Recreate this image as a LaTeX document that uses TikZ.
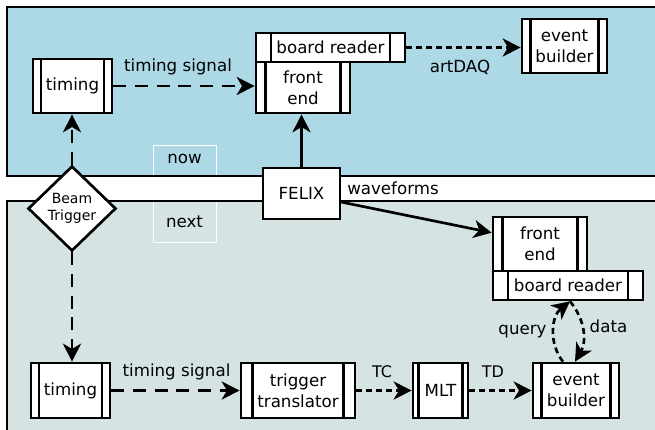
\documentclass[tikz,border=0pt]{standalone}
\usepackage{fontspec}
\setmainfont{DejaVu Sans}
\usetikzlibrary{arrows.meta,shapes.geometric,calc}
\definecolor{toppanel}{RGB}{173,216,230}
\definecolor{botpanel}{RGB}{214,227,227}
\begin{document}
\begin{tikzpicture}[x=0.75pt,y=-0.75pt,
  every node/.style={font=\fontsize{12.5}{16}\selectfont},
  proc/.style={draw, fill=white, line width=2pt, inner sep=0pt, align=center,
    path picture={
      \draw[line width=2pt]
        ($(path picture bounding box.north west)!0.1!(path picture bounding box.north east)$) --
        ($(path picture bounding box.south west)!0.1!(path picture bounding box.south east)$)
        ($(path picture bounding box.north east)!0.1!(path picture bounding box.north west)$) --
        ($(path picture bounding box.south east)!0.1!(path picture bounding box.south west)$);
    }},
  plainbox/.style={draw, fill=white, line width=2pt, inner sep=0pt, align=center},
  sz/.style 2 args={minimum width=#1*0.75pt, minimum height=#2*0.75pt},
  conn/.style={line width=2pt, -{Stealth[length=13.5pt,width=13.5pt,inset=4pt]}},
  longdash/.style={dash pattern=on 9.75pt off 6.5pt},
  shortdash/.style={dash pattern=on 4.5pt off 3pt},
  lbl/.style={inner sep=0pt},
  smalllbl/.style={inner sep=0pt, font=\fontsize{12}{14}\selectfont}
]
\useasboundingbox (0,0) rectangle (655,429);
\clip (0,0) rectangle (655,429);
% panels
\fill[toppanel] (7,7) rectangle (665,176);
\fill[botpanel] (7,201) rectangle (665,440);
\draw[white, line width=0.75pt] (153,145) rectangle (216,242);
\draw[line width=2pt] (7,7) rectangle (665,176);
\draw[line width=2pt] (7,201) rectangle (665,440);
\node[lbl] (now) at (184.5,159) {now};
\node[lbl] (next) at (184.5,221.5) {next};

% top nodes
\node[proc, sz={79}{54}] (tim1) at (72.5,86) {timing};
\node[proc, sz={94}{51}] (fe1) at (303,87.5) {front\\end};
\node[proc, sz={149}{29}] (br1) at (330.5,47.5) {board reader};
\node[proc, sz={85}{54}] (eb1) at (564.5,46) {event\\builder};
\node[plainbox, sz={77}{51}] (felix) at (301.5,193.5) {FELIX};
\node[diamond, draw, fill=white, line width=2pt, aspect=1, inner sep=0pt, sz={88}{85},
      align=center, font=\fontsize{10.5}{12.5}\selectfont] (beam) at (72,208.5) {Beam\\Trigger};

% bottom nodes
\node[proc, sz={94}{54}] (fe2) at (540,244) {front\\end};
\node[proc, sz={150}{29}] (br2) at (568,285.5) {board reader};
\node[proc, sz={86}{55}] (eb2) at (576,390.5) {event\\builder};
\node[proc, sz={55}{55}] (mlt) at (440.5,390.5) {MLT};
\node[proc, sz={114}{55}] (tt) at (298,390.5) {trigger\\translator};
\node[proc, sz={79}{55}] (tim2) at (70.5,390.5) {timing};

% connectors
\draw[conn, longdash] (tim1.east) -- (tim1.east -| fe1.west);
\draw[conn, longdash] (beam.north) -- (beam.north |- tim1.south);
\draw[conn, longdash] (beam.south) -- (beam.south |- tim2.north);
\draw[conn] (felix.north) -- (felix.north |- fe1.south);
\draw[conn, shortdash] (br1.east) -- (br1.east -| eb1.west);
\draw[conn] ($(felix.north east)!0.66!(felix.south east)$) -- ($(fe2.north west)!0.3!(fe2.south west)$);
\draw[conn, longdash] (tim2.east) -- (tim2.east -| tt.west);
\draw[conn, shortdash] (tt.east) -- (tt.east -| mlt.west);
\draw[conn, shortdash] (mlt.east) -- (mlt.east -| eb2.west);
\draw[conn, shortdash] ($(eb2.north)+(-13,0)$) to[bend left=45] ($(br2.south)+(2,0)$);
\draw[conn, shortdash] ($(br2.south)+(2,0)$) to[bend left=35] ($(eb2.north)+(-1,0)$);

% labels
\node[lbl] (lts1) at (178,67) {timing signal};
\node[lbl] (lart) at (460,67) {artDAQ};
\node[lbl, anchor=west] (lwave) at (347,188.5) {waveforms};
\node[lbl] (lts2) at (176.5,372) {timing signal};
\node[smalllbl] (ltc) at (382,371.5) {TC};
\node[smalllbl] (ltd) at (493,371.5) {TD};
\node[lbl] (lquery) at (522.5,331.5) {query};
\node[lbl] (ldata) at (608.5,326.5) {data};
\end{tikzpicture}
\end{document}
